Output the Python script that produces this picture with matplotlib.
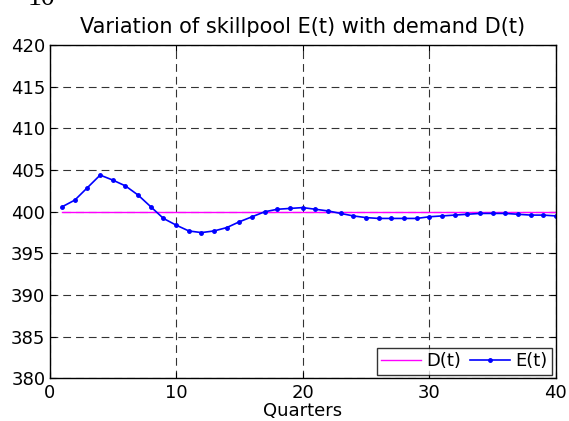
import numpy as np
import matplotlib.pyplot as plt

# data
quarters = np.arange(1, 41)
demand = [400.0] * 40
skillpool = [400.6, 401.4, 402.9, 404.4, 403.8, 403.1, 402.0, 400.6, 399.2, 398.4,
             397.7, 397.5, 397.7, 398.1, 398.8, 399.4, 400.0, 400.3, 400.4, 400.5,
             400.3, 400.1, 399.8, 399.5, 399.3, 399.2, 399.2, 399.2, 399.2, 399.4,
             399.5, 399.6, 399.7, 399.8, 399.8, 399.8, 399.7, 399.6, 399.6, 399.5]
xticks = [0, 10, 20, 30, 40]
yticks = list(range(380, 421, 5))

plt.rcParams['font.family'] = ['DejaVu Sans']

fig = plt.figure(figsize=(5.69, 4.21), dpi=100)
ax = fig.add_axes([0.087, 0.101, 0.89, 0.792])

ax.plot(quarters, demand, color='#ff00ff', lw=1.0, label='D(t)')
ax.plot(quarters, skillpool, color='#0000ff', lw=1.2, marker='.', ms=5, label='E(t)')

ax.set_xlim(0, 40)
ax.set_ylim(380, 420)
ax.set_xticks(xticks)
ax.set_yticks(yticks)
ax.tick_params(direction='in', top=True, right=True, length=4, labelsize=13)
ax.tick_params(axis='x', pad=4)
ax.tick_params(axis='y', pad=3)
ax.grid(True, color='black', ls=(0, (7, 4.5)), lw=0.8, alpha=0.8)
for s in ax.spines.values():
    s.set_linewidth(1.0)

ax.set_title('Variation of skillpool E(t) with demand D(t)', fontsize=15, pad=9)
ax.set_xlabel('Quarters', fontsize=13, labelpad=0)

leg = ax.legend(loc='lower right', ncol=2, fontsize=13, frameon=True, fancybox=False,
                borderaxespad=0.2, handlelength=2.2, handletextpad=0.3, columnspacing=0.5,
                borderpad=0.25)
leg.get_frame().set_edgecolor('black')
leg.get_frame().set_linewidth(1.0)

# clipped text at the top left of the original image
fig.text(0.048, 1 - 5 / 421, '10', fontsize=20, family='Liberation Serif', va='baseline')

fig.savefig('out.png', dpi=100)
